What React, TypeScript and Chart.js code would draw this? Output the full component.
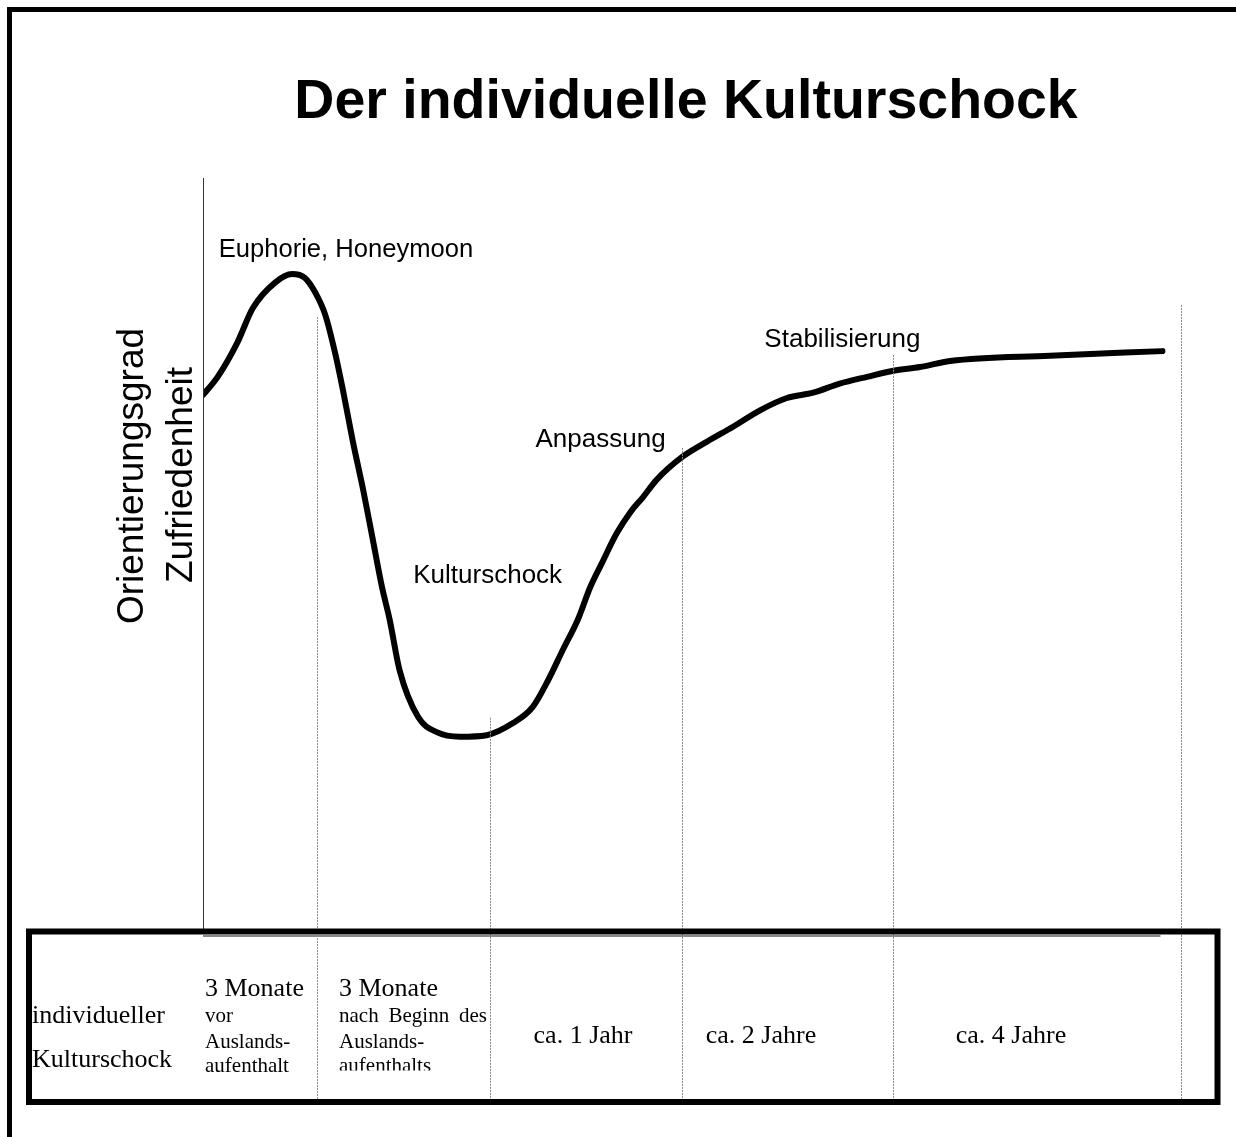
import React, { useEffect, useRef } from "react";
import { Chart, registerables } from "chart.js";

Chart.register(...registerables);

// Curve: x in abstract time units (0..100), y = satisfaction / orientation (0..100)
const curveX = [0, 1.5, 3.5, 5.1, 7.4, 9.1, 10.4, 11.5, 12.5, 13.5, 14.3, 15.3, 16.4, 17.3, 18.3, 19.1, 20.1, 22.0, 23.9, 26.3, 29.0, 31.7, 33.7, 35.3, 36.8, 38.3, 39.6, 40.8, 42.3, 43.7, 45.0, 46.4, 49.0, 51.5, 54.2, 57.0, 59.7, 62.4, 65.1, 67.9, 70.6, 73.3, 76.4, 86.6, 98.1];
const curveY = [71.3, 73.7, 78.2, 82.8, 86.2, 87.3, 86.8, 84.8, 81.9, 76.9, 72.0, 65.3, 58.6, 52.6, 45.9, 41.5, 34.9, 28.7, 26.7, 26.1, 26.3, 27.9, 30.0, 33.6, 37.6, 41.5, 45.9, 49.1, 53.0, 55.8, 57.8, 60.1, 63.1, 65.1, 67.1, 69.3, 70.9, 71.6, 72.8, 73.7, 74.5, 75.0, 75.8, 76.5, 77.1];

// Phase boundaries (dotted lines) and where each starts (y value)
const phaseX = [11.7, 29.3, 49.0, 70.6, 100];
const phaseTop = [81.6, 28.6, 64.3, 76.6, 83.2];

// Phase labels on the curve
const phaseLabels = ["Euphorie, Honeymoon", "Kulturschock", "Anpassung", "Stabilisierung"];

const title = "Der individuelle Kulturschock";
const yTitle = ["Orientierungsgrad", "Zufriedenheit"];

// Table
const rowHeader = ["individueller", "Kulturschock"];
const col1 = ["3 Monate", "vor", "Auslands-", "aufenthalt"];
const col2 = ["3 Monate", "nach Beginn des", "Auslands-", "aufenthalts"];
const durations = ["ca. 1 Jahr", "ca. 2 Jahre", "ca. 4 Jahre"];

const SANS = '"Liberation Sans", Arial, sans-serif';
const SERIF = '"Liberation Serif", "Times New Roman", serif';

const decorPlugin = {
  id: "decor",
  beforeDraw(chart: any) {
    const ctx = chart.ctx as CanvasRenderingContext2D;
    ctx.save();
    ctx.fillStyle = "#fff";
    ctx.fillRect(0, 0, chart.width, chart.height);
    ctx.restore();
  },
  afterDatasetsDraw(chart: any) {
    const ctx = chart.ctx as CanvasRenderingContext2D;
    const xs = chart.scales.x, ys = chart.scales.y;
    const area = chart.chartArea;
    const tableTop = 931.5, tableBottom = 1102, tableLeft = 29, tableRight = 1217.5;

    ctx.save();
    // outer frame
    ctx.strokeStyle = "#000";
    ctx.lineWidth = 5;
    ctx.strokeRect(9.5, 9.5, 1400, 1400);

    // title
    ctx.fillStyle = "#000";
    ctx.font = `bold 55.5px ${SANS}`;
    ctx.textAlign = "center";
    ctx.textBaseline = "alphabetic";
    ctx.fillText(title, 686, 118);

    // y axis line
    ctx.strokeStyle = "#333";
    ctx.lineWidth = 1;
    ctx.beginPath();
    ctx.moveTo(Math.round(area.left) + 0.5, area.top);
    ctx.lineTo(Math.round(area.left) + 0.5, area.bottom);
    ctx.stroke();

    // x axis gray line
    ctx.strokeStyle = "#888";
    ctx.lineWidth = 2;
    ctx.beginPath();
    ctx.moveTo(area.left, 936);
    ctx.lineTo(xs.getPixelForValue(97.9), 936);
    ctx.stroke();

    // dotted phase lines
    ctx.strokeStyle = "#8a8a8a";
    ctx.lineWidth = 1;
    ctx.setLineDash([2, 1]);
    phaseX.forEach((v, i) => {
      const px = Math.round(xs.getPixelForValue(v)) + 0.5;
      ctx.beginPath();
      ctx.moveTo(px, ys.getPixelForValue(phaseTop[i]));
      ctx.lineTo(px, tableBottom);
      ctx.stroke();
    });
    ctx.setLineDash([]);

    // table border
    ctx.strokeStyle = "#000";
    ctx.lineWidth = 6;
    ctx.strokeRect(tableLeft, tableTop, tableRight - tableLeft, tableBottom - tableTop);

    // y title (rotated)
    ctx.font = `37px ${SANS}`;
    ctx.textAlign = "center";
    ctx.textBaseline = "alphabetic";
    const yt = [[143, 476], [192, 475]];
    yTitle.forEach((t, i) => {
      ctx.save();
      ctx.translate(yt[i][0], yt[i][1]);
      ctx.rotate(-Math.PI / 2);
      ctx.fillText(t, 0, 0);
      ctx.restore();
    });

    // phase labels
    ctx.textAlign = "left";
    const labelPos = [[1.6, 89.6], [21.5, 46.4], [34.0, 64.4], [57.4, 77.6]];
    phaseLabels.forEach((t, i) => {
      ctx.font = i === 0 ? `25.6px ${SANS}` : `26px ${SANS}`;
      ctx.fillText(t, xs.getPixelForValue(labelPos[i][0]), ys.getPixelForValue(labelPos[i][1]));
    });

    // table texts
    ctx.font = `26px ${SERIF}`;
    ctx.textAlign = "left";
    ctx.fillText(rowHeader[0], 32, 1023);
    ctx.fillText(rowHeader[1], 32, 1067);

    const c1x = 205, c2x = 339, c2r = 487;
    const bl = [996, 1022, 1048, 1072];
    col1.forEach((t, i) => {
      ctx.font = i === 0 ? `26px ${SERIF}` : `21px ${SERIF}`;
      ctx.fillText(t, c1x, bl[i]);
    });
    ctx.save();
    ctx.beginPath();
    ctx.rect(c2x - 5, 940, 160, 1070.5 - 940);
    ctx.clip();
    col2.forEach((t, i) => {
      ctx.font = i === 0 ? `26px ${SERIF}` : `21px ${SERIF}`;
      if (i === 1) {
        const words = t.split(" ");
        const total = words.reduce((s, w) => s + ctx.measureText(w).width, 0);
        const gap = (c2r - c2x - total) / (words.length - 1);
        let x = c2x;
        words.forEach((w) => {
          ctx.fillText(w, x, bl[i]);
          x += ctx.measureText(w).width + gap;
        });
      } else {
        ctx.fillText(t, c2x, bl[i]);
      }
    });
    ctx.restore();

    ctx.font = `26px ${SERIF}`;
    ctx.textAlign = "center";
    const durCenters = [583, 761, 1011];
    durations.forEach((t, i) => ctx.fillText(t, durCenters[i], 1043));

    ctx.restore();
  },
};

export default function App() {
  const ref = useRef<HTMLCanvasElement | null>(null);
  useEffect(() => {
    if (!ref.current) return;
    const chart = new Chart(ref.current, {
      type: "line",
      data: {
        datasets: [
          {
            data: curveX.map((x, i) => ({ x, y: curveY[i] })),
            borderColor: "#000",
            borderWidth: 6,
            borderCapStyle: "round",
            borderJoinStyle: "round",
            pointRadius: 0,
            cubicInterpolationMode: "monotone",
            fill: false,
          },
        ],
      },
      options: {
        responsive: false,
        animation: false,
        layout: { padding: { left: 203, right: 55, top: 178, bottom: 203 } },
        plugins: { legend: { display: false }, tooltip: { enabled: false }, title: { display: false } },
        scales: {
          x: { type: "linear", min: 0, max: 100, display: false },
          y: { type: "linear", min: 0, max: 100, display: false },
        },
      },
      plugins: [decorPlugin],
    });
    return () => chart.destroy();
  }, []);
  return (
    <div style={{ position: "fixed", left: 0, top: 0, width: 1236, height: 1137, background: "#fff" }}>
      <canvas ref={ref} width={1236} height={1137} style={{ display: "block", width: 1236, height: 1137 }} />
    </div>
  );
}
